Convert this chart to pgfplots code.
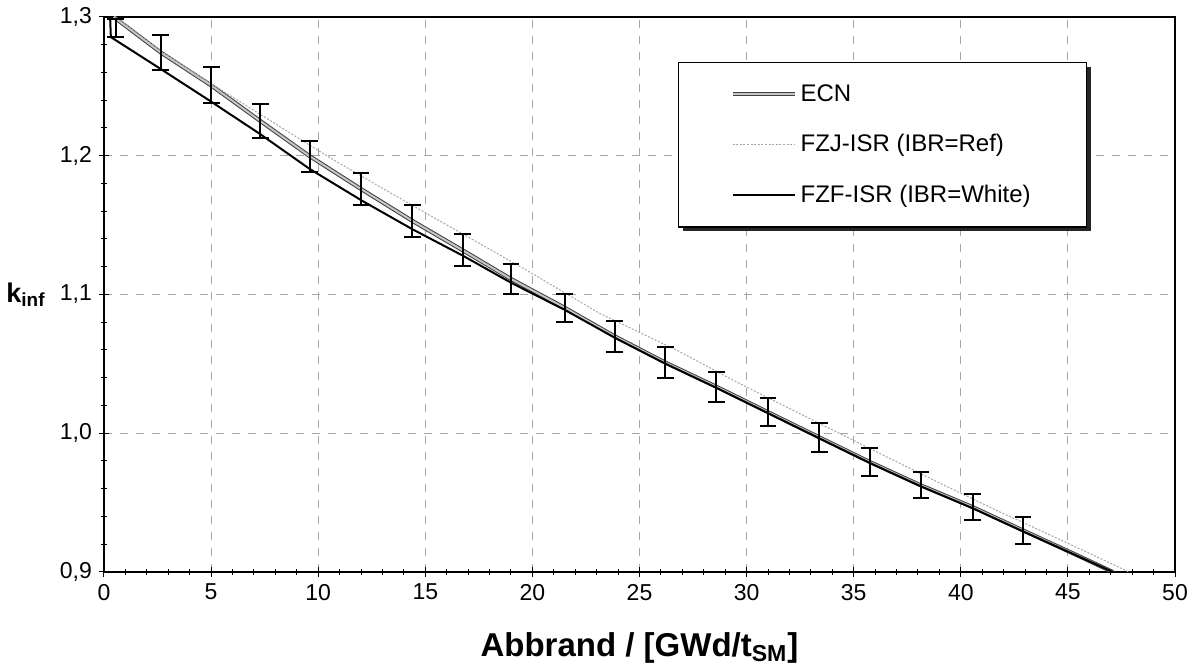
\documentclass[border=0pt]{standalone}
\usepackage{fontspec}
\setmainfont{Liberation Sans}
\usepackage{pgfplots}
\pgfplotsset{compat=1.18}
\usepackage{pgfplotstable}
\usetikzlibrary{shadows}

\makeatletter
\tikzset{no preactions/.code={\let\tikz@preactions\pgfutil@empty}}
\makeatother

% ECN with uncertainty bars
\pgfplotstableread{
x     y      e
0.55  1.2920 0.0065
2.65  1.2744 0.0126
5.00  1.2507 0.0130
7.30  1.2250 0.0122
9.60  1.1997 0.0112
12.00 1.1760 0.0114
14.40 1.1530 0.0115
16.75 1.1318 0.0115
19.00 1.1112 0.0108
21.50 1.0905 0.0101
23.85 1.0698 0.0110
26.20 1.0510 0.0112
28.58 1.0336 0.0108
31.00 1.0152 0.0100
33.40 0.9970 0.0105
35.75 0.9793 0.0101
38.14 0.9624 0.0094
40.55 0.9468 0.0094
42.90 0.9300 0.0097
}\ecnbars

\pgfplotstableread{
x     y
0.45  1.3000
2.65  1.2744
5.00  1.2507
7.30  1.2250
9.60  1.1997
12.00 1.1760
14.40 1.1530
16.75 1.1318
19.00 1.1112
21.50 1.0905
23.85 1.0698
26.20 1.0510
28.58 1.0336
31.00 1.0152
33.40 0.9970
35.75 0.9793
38.14 0.9624
40.55 0.9468
42.90 0.9300
45.20 0.9137
47.10 0.9000
}\ecn

\pgfplotstableread{
x     y
0.50  1.3005
2.65  1.2755
5.00  1.2520
8.21  1.2210
10.50 1.1990
12.87 1.1777
15.50 1.1545
18.08 1.1320
20.00 1.1150
23.13 1.0865
26.87 1.0588
29.50 1.0372
32.46 1.0143
36.19 0.9856
39.00 0.9642
41.79 0.9435
43.73 0.9298
46.00 0.9135
47.85 0.9000
}\fzj

\pgfplotstableread{
x     y
0.28  1.3020
0.32  1.2855
2.65  1.2625
5.00  1.2390
7.30  1.2155
9.60  1.1905
12.00 1.1680
14.40 1.1470
16.75 1.1280
19.00 1.1085
21.50 1.0890
23.85 1.0688
26.20 1.0502
28.58 1.0328
31.00 1.0145
33.40 0.9963
35.75 0.9786
38.14 0.9617
40.55 0.9460
42.90 0.9293
45.20 0.9133
47.10 0.9000
}\fzf

\begin{document}
\begin{tikzpicture}
\begin{axis}[
    name=ax,
    scale only axis,
    width=535.5pt, height=277.5pt,
    xmin=0, xmax=50, ymin=0.9, ymax=1.3,
    xtick={0,5,...,50},
    ytick={0.9,1.0,1.1,1.2,1.3},
    minor x tick num=4, minor y tick num=4,
    xtick pos=left, ytick pos=left,
    tick align=center,
    major tick length=5pt, minor tick length=3pt,
    tick style={black, line width=0.5pt},
    axis line style={black, line width=0.8pt},
    grid=major,
    major grid style={gray!70, line width=0.5pt, dash pattern=on 4pt off 4pt},
    /pgf/number format/assume math mode=true,
    ticklabel style={font=\fontsize{11.5}{13}\selectfont},
    yticklabel style={/pgf/number format/.cd, fixed, fixed zerofill, precision=1, use comma},
    xlabel={\textbf{Abbrand / [GWd/t\textsubscript{SM}]}},
    xlabel style={font=\fontsize{16.5}{18}\selectfont, at={(axis description cs:0.5,0)}, anchor=center, yshift=-38pt},
    ylabel={\textbf{k\textsubscript{inf}}},
    ylabel style={rotate=-90, font=\fontsize{13.5}{15}\selectfont, at={(axis description cs:0,0.5)}, anchor=center, xshift=-39pt},
    legend style={at={(axis cs:26.8,1.2676)}, anchor=north west,
        draw=black, line width=0.6pt, fill=white,
        drop shadow={shadow xshift=2pt, shadow yshift=-2pt, fill=black!85, opacity=1},
        font=\fontsize{12}{14}\selectfont,
        inner xsep=26pt, inner ysep=9pt, row sep=11pt},
    legend cell align=left,
    legend image code/.code={\draw[no preactions, #1] (0pt,0pt) -- (31pt,0pt);},
]
\addplot[draw=black!75, line width=0.5pt, double=gray!45, double distance=1pt] table[x=x, y=y] {\ecn};
\addlegendentry{ECN}
\addplot[draw=gray!70, line width=0.5pt, dash pattern=on 1pt off 0.8pt] table[x=x, y=y] {\fzj};
\addlegendentry{FZJ-ISR (IBR=Ref)}
\addplot[draw=black, line width=1pt] table[x=x, y=y] {\fzf};
\addlegendentry{FZF-ISR (IBR=White)}
\addplot[forget plot, draw=none, mark=none, black,
    error bars/.cd, y dir=both, y explicit,
    error bar style={line width=1pt},
    error mark options={rotate=90, mark size=4.2pt, line width=1pt}]
    table[x=x, y=y, y error=e] {\ecnbars};
\end{axis}
\pgfresetboundingbox
\path ([shift={(-52pt,-49pt)}]ax.south west) rectangle ([shift={(9.5pt,8.5pt)}]ax.north east);
\end{tikzpicture}
\end{document}
